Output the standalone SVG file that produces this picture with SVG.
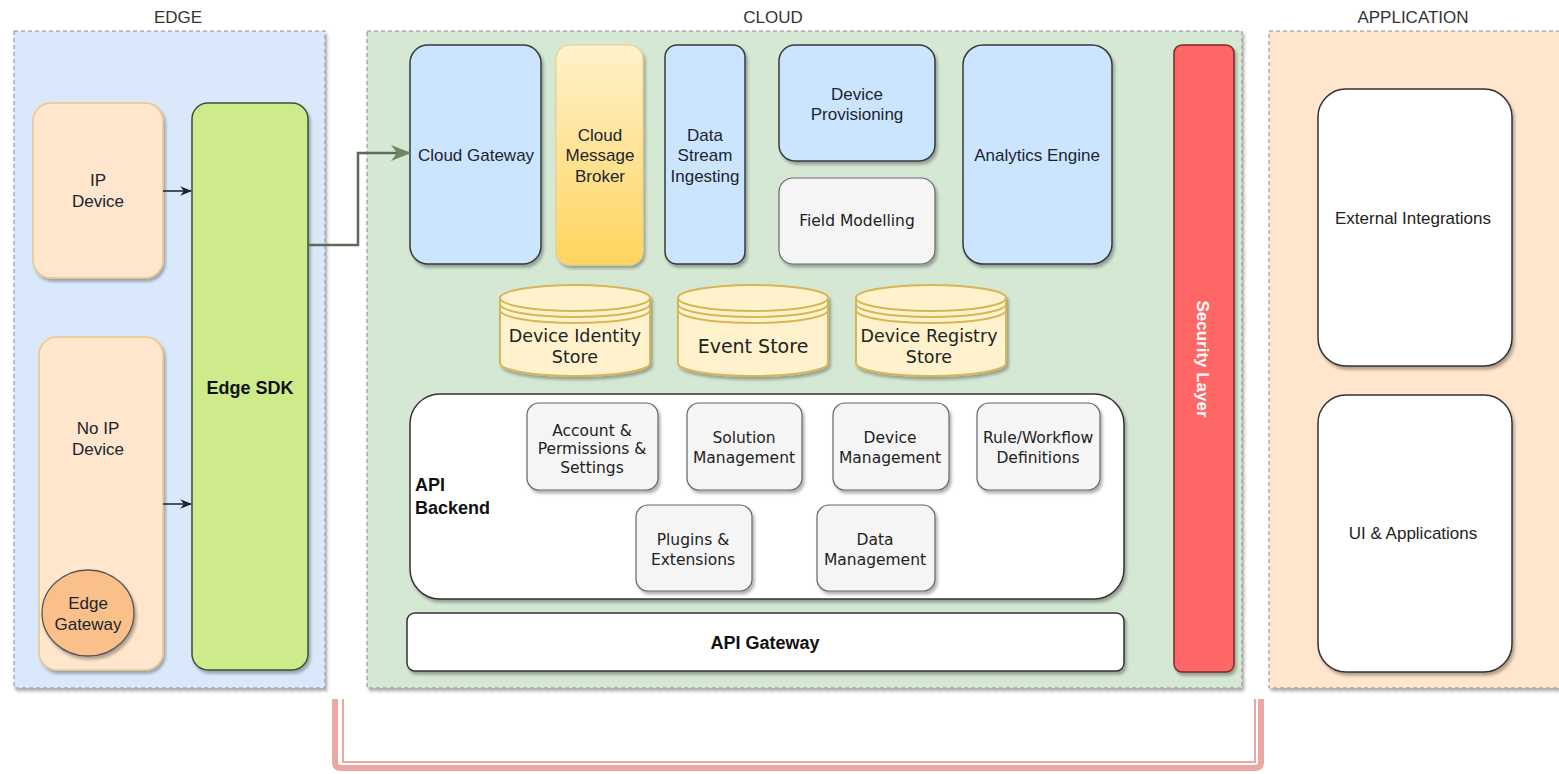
<svg xmlns="http://www.w3.org/2000/svg" width="1559" height="774" viewBox="0 0 1559 774">
<defs>
<filter id="sh" x="-10%" y="-10%" width="130%" height="130%"><feDropShadow dx="2" dy="3" stdDeviation="1.5" flood-color="#000" flood-opacity="0.3"/></filter>
<linearGradient id="gold" x1="0" y1="0" x2="0" y2="1"><stop offset="0" stop-color="#fff2cc"/><stop offset="1" stop-color="#ffd45e"/></linearGradient>
<marker id="ah" viewBox="0 0 10 10" refX="9" refY="5" markerWidth="8" markerHeight="8" orient="auto"><path d="M0,1 L10,5 L0,9 L3,5 Z" fill="#1a2233"/></marker>
<marker id="ahg" viewBox="0 0 10 10" refX="9" refY="5" markerWidth="8" markerHeight="8" orient="auto"><path d="M0,1 L10,5 L0,9 L3,5 Z" fill="#6d8764"/></marker>
</defs>
<style>
.lbl{font-family:"Liberation Sans",Arial,sans-serif;font-size:17px;fill:#333;text-anchor:middle}
.t{font-family:"Liberation Sans",Arial,sans-serif;font-size:17px;fill:#1c2430;text-anchor:middle}
.v{font-family:"DejaVu Sans",Verdana,sans-serif;font-size:15.5px;fill:#222;text-anchor:middle}
.vc{font-family:"DejaVu Sans",Verdana,sans-serif;font-size:17.5px;fill:#222;text-anchor:middle}
.b{font-family:"Liberation Sans",Arial,sans-serif;font-size:18px;font-weight:bold;fill:#111}
.zone{stroke:#8a8a8a;stroke-width:1;stroke-dasharray:4 3}
.blue{fill:#cce5ff;stroke:#36393d;stroke-width:1.5}
.dev{fill:#ffe6cc;stroke:#e8c889;stroke-width:1.5}
.sub{fill:#f5f5f5;stroke:#666;stroke-width:1.2}
.wht{fill:#fff;stroke:#333;stroke-width:1.5}
.cyl{fill:#fff2cc;stroke:#d6b656;stroke-width:2}
</style>

<g id="zones">
<text class="lbl" x="178" y="23">EDGE</text>
<rect class="zone" x="14" y="31" width="311" height="657" fill="#dae8fc" filter="url(#sh)"/>
<text class="lbl" x="773" y="23">CLOUD</text>
<rect class="zone" x="367" y="31" width="875" height="657" fill="#d5e8d4" filter="url(#sh)"/>
<text class="lbl" x="1413" y="23">APPLICATION</text>
<rect class="zone" x="1269" y="31" width="295" height="657" fill="#ffe6cc" filter="url(#sh)"/>
</g>

<g id="ip-device">
<rect class="dev" x="33" y="103" width="130" height="175" rx="18" filter="url(#sh)"/>
<text class="t" x="98" y="186">IP</text><text class="t" x="98" y="207">Device</text>
</g>
<g id="no-ip-device">
<rect class="dev" x="39" y="337" width="124" height="333" rx="18" filter="url(#sh)"/>
<text class="t" x="98" y="434">No IP</text><text class="t" x="98" y="455">Device</text>
</g>
<g id="edge-gateway">
<ellipse cx="88" cy="613" rx="46" ry="43" fill="#f9c08a" stroke="#555" stroke-width="1.3" filter="url(#sh)"/>
<text class="t" x="88" y="609">Edge</text><text class="t" x="88" y="630">Gateway</text>
</g>
<g id="edge-sdk">
<rect x="192" y="103" width="116" height="567" rx="16" fill="#cdeb8b" stroke="#36533a" stroke-width="1.5" filter="url(#sh)"/>
<text class="b" x="250" y="394" text-anchor="middle">Edge SDK</text>
</g>

<g id="cloud-gateway">
<rect class="blue" x="410" y="45" width="131" height="219" rx="18" filter="url(#sh)"/>
<text class="t" x="476" y="161">Cloud Gateway</text>
</g>
<g id="cloud-message-broker">
<rect x="556" y="45" width="87" height="220" rx="14" fill="url(#gold)" stroke="#e8cf8a" stroke-width="1.2" filter="url(#sh)"/>
<text class="t" x="600" y="141">Cloud</text><text class="t" x="600" y="161">Message</text><text class="t" x="600" y="182">Broker</text>
</g>
<g id="data-stream-ingesting">
<rect class="blue" x="665" y="45" width="80" height="219" rx="12" filter="url(#sh)"/>
<text class="t" x="705" y="141">Data</text><text class="t" x="705" y="161">Stream</text><text class="t" x="705" y="182">Ingesting</text>
</g>
<g id="device-provisioning">
<rect class="blue" x="779" y="45" width="156" height="116" rx="16" filter="url(#sh)"/>
<text class="t" x="857" y="100">Device</text><text class="t" x="857" y="120">Provisioning</text>
</g>
<g id="field-modelling">
<rect x="779" y="178" width="156" height="86" rx="14" fill="#f5f5f5" stroke="#666" stroke-width="1.2" filter="url(#sh)"/>
<text class="v" x="857" y="226" style="font-size:15.5px">Field Modelling</text>
</g>
<g id="analytics-engine">
<rect class="blue" x="963" y="45" width="149" height="219" rx="20" filter="url(#sh)"/>
<text class="t" x="1037" y="161">Analytics Engine</text>
</g>
<g id="security-layer">
<rect x="1174" y="45" width="60" height="627" rx="8" fill="#ff6666" stroke="#7a2a2a" stroke-width="1.5" filter="url(#sh)"/>
<text transform="translate(1197,359) rotate(90)" text-anchor="middle" style="font-family:'Liberation Sans',Arial,sans-serif;font-size:17px;font-weight:bold;fill:#fff">Security Layer</text>
</g>

<g id="device-identity-store">
<path class="cyl" d="M500,298 A75,13 0 0 1 650,298 L650,363 A75,13 0 0 1 500,363 Z" filter="url(#sh)"/>
<path d="M500,298 A75,13 0 0 0 650,298 M500,304 A75,13 0 0 0 650,304 M500,310 A75,13 0 0 0 650,310" fill="none" stroke="#d6b656" stroke-width="2"/>
<text class="vc" x="575" y="342">Device Identity</text><text class="vc" x="575" y="363">Store</text>
</g>
<g id="event-store">
<path class="cyl" d="M678,298 A75,13 0 0 1 828,298 L828,363 A75,13 0 0 1 678,363 Z" filter="url(#sh)"/>
<path d="M678,298 A75,13 0 0 0 828,298 M678,304 A75,13 0 0 0 828,304 M678,310 A75,13 0 0 0 828,310" fill="none" stroke="#d6b656" stroke-width="2"/>
<text class="vc" x="753" y="353" style="font-size:19px">Event Store</text>
</g>
<g id="device-registry-store">
<path class="cyl" d="M856,298 A75,13 0 0 1 1006,298 L1006,363 A75,13 0 0 1 856,363 Z" filter="url(#sh)"/>
<path d="M856,298 A75,13 0 0 0 1006,298 M856,304 A75,13 0 0 0 1006,304 M856,310 A75,13 0 0 0 1006,310" fill="none" stroke="#d6b656" stroke-width="2"/>
<text class="vc" x="929" y="342">Device Registry</text><text class="vc" x="929" y="363">Store</text>
</g>

<g id="api-backend">
<rect class="wht" x="410" y="394" width="714" height="205" rx="30" filter="url(#sh)"/>
<text class="b" x="415" y="491">API</text><text class="b" x="415" y="514">Backend</text>
</g>
<g id="account-permissions">
<rect class="sub" x="527" y="403" width="131" height="87" rx="12" filter="url(#sh)"/>
<text class="v" x="592" y="436">Account &amp;</text><text class="v" x="592" y="454">Permissions &amp;</text><text class="v" x="592" y="473">Settings</text>
</g>
<g id="solution-management">
<rect class="sub" x="687" y="403" width="115" height="87" rx="12" filter="url(#sh)"/>
<text class="v" x="744" y="443">Solution</text><text class="v" x="744" y="463">Management</text>
</g>
<g id="device-management">
<rect class="sub" x="833" y="403" width="116" height="87" rx="12" filter="url(#sh)"/>
<text class="v" x="890" y="443">Device</text><text class="v" x="890" y="463">Management</text>
</g>
<g id="rule-workflow">
<rect class="sub" x="977" y="403" width="123" height="87" rx="12" filter="url(#sh)"/>
<text class="v" x="1038" y="443">Rule/Workflow</text><text class="v" x="1038" y="463">Definitions</text>
</g>
<g id="plugins-extensions">
<rect class="sub" x="636" y="505" width="116" height="86" rx="12" filter="url(#sh)"/>
<text class="v" x="693" y="545">Plugins &amp;</text><text class="v" x="693" y="565">Extensions</text>
</g>
<g id="data-management">
<rect class="sub" x="817" y="505" width="118" height="86" rx="12" filter="url(#sh)"/>
<text class="v" x="875" y="545">Data</text><text class="v" x="875" y="565">Management</text>
</g>
<g id="api-gateway">
<rect class="wht" x="407" y="613" width="717" height="58" rx="8" filter="url(#sh)"/>
<text class="b" x="765" y="649" text-anchor="middle">API Gateway</text>
</g>

<g id="external-integrations">
<rect class="wht" x="1318" y="89" width="194" height="277" rx="28" filter="url(#sh)"/>
<text class="t" x="1413" y="224" style="fill:#222">External Integrations</text>
</g>
<g id="ui-applications">
<rect class="wht" x="1318" y="395" width="194" height="277" rx="28" filter="url(#sh)"/>
<text class="t" x="1413" y="539" style="fill:#222">UI &amp; Applications</text>
</g>

<g id="connectors" fill="none">
<path d="M163,191 L191,191" stroke="#1a2233" stroke-width="1.5" marker-end="url(#ah)"/>
<path d="M163,504 L191,504" stroke="#1a2233" stroke-width="1.5" marker-end="url(#ah)"/>
<path d="M308,245 L358,245 L358,153 L409,153" stroke="#5b6b58" stroke-width="2.5" marker-end="url(#ahg)"/>
</g>

<g id="bracket" fill="none" stroke="#eaa8a2">
<path d="M335,699 L335,762 Q335,768 341,768 L1255,768 Q1261,768 1261,762 L1261,699" stroke-width="6"/>
<path d="M343,699 L343,762 L1255,762 L1255,699" stroke-width="2"/>
</g>
</svg>
